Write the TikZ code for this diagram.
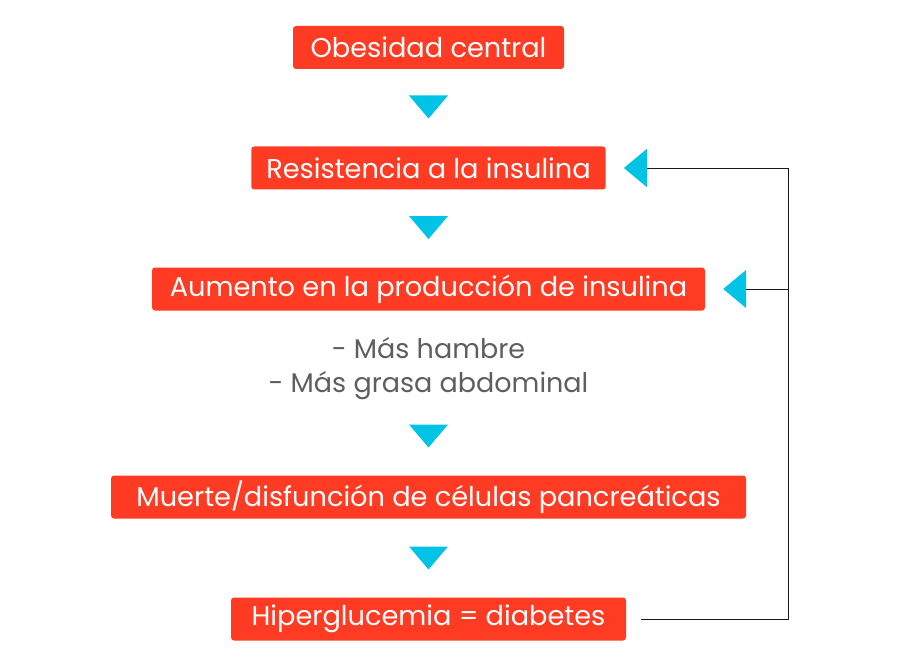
\documentclass[tikz,border=0pt]{standalone}
\usepackage{fontspec}
\setmainfont{Poppins}
\usetikzlibrary{positioning,arrows.meta}

\definecolor{boxred}{HTML}{FF3B24}
\definecolor{tricyan}{HTML}{00C3E6}
\definecolor{notegray}{HTML}{5E5E5E}

\tikzset{
  stepbox/.style={fill=boxred, text=white, rounded corners=3pt,
    minimum height=43pt, inner xsep=15pt, inner ysep=0pt,
    font=\fontsize{27.2}{32}\selectfont},
  downtri/.pic={\fill[tricyan] (-19.5pt,11.5pt) -- (19.5pt,11.5pt) -- (0,-11.5pt) -- cycle;},
  loopline/.style={draw=black!90, line width=0.9pt,
    -{Triangle[width=38pt,length=23pt,color=tricyan]}, shorten >=18pt}
}

\begin{document}
\begin{tikzpicture}[%
    node distance=120.5pt,
    on grid
  ]
  \useasboundingbox (0,0) rectangle (900pt,-666pt);

  \node[stepbox, minimum width=271pt] (ob) at (428.5pt,-47.5pt) {Obesidad central};
  \node[stepbox, minimum width=351pt] (res) [below=of ob] {Resistencia a la insulina};
  \node[stepbox, minimum width=553pt] (aum) [below=121pt of res] {Aumento en la producción de insulina};
  \node[text=notegray, align=center, font=\fontsize{27}{34}\selectfont] (sint) [below=80pt of aum]
    {- Más hambre\\- Más grasa abdominal};
  \node[stepbox, minimum width=635pt] (mue) [below=128pt of sint] {Muerte/disfunción de células pancreáticas};
  \node[stepbox, minimum width=395pt] (hip) [below=122pt of mue] {Hiperglucemia = diabetes};

  % flechas hacia abajo
  \coordinate[below=59.5pt of ob] (t1);
  \coordinate[below=59.5pt of res] (t2);
  \coordinate[below=67pt of sint] (t3);
  \coordinate[below=61pt of mue] (t4);
  \foreach \t in {t1,t2,t3,t4}
    \pic at (\t) {downtri};

  % retroalimentacion
  \coordinate[right=15pt of hip.east] (hipout);
  \coordinate (bus) at (788pt,0);
  \draw[loopline] (hipout) -| (bus |- res.east) -- (res.east);
  \draw[loopline] (bus |- aum.east) -- (aum.east);

\end{tikzpicture}
\end{document}
